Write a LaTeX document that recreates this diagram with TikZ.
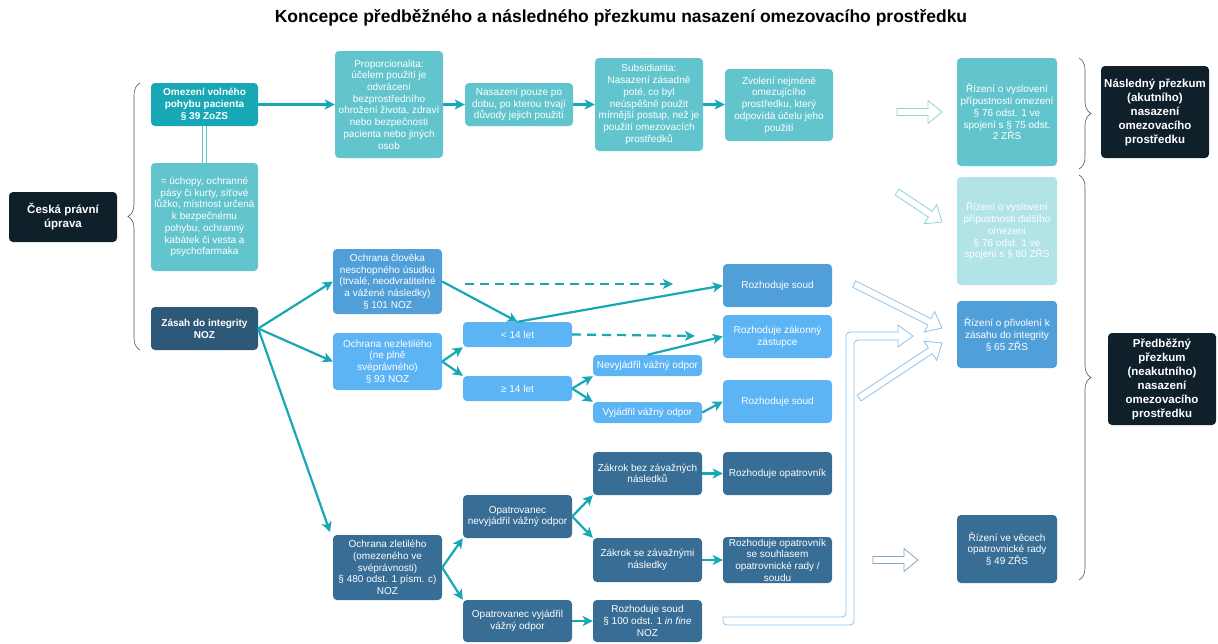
\documentclass[tikz,border=0pt]{standalone}
\usepackage{fontspec}
\setmainfont{Liberation Sans}
\usetikzlibrary{arrows.meta,calc,decorations.pathreplacing}

\definecolor{tealdark}{HTML}{17A7B5}
\definecolor{tealmid}{HTML}{62C5CD}
\definecolor{teallight}{HTML}{B2E3E6}
\definecolor{bluemid}{HTML}{509FD9}
\definecolor{bluelight}{HTML}{5DB4F5}
\definecolor{bluedark}{HTML}{386D95}
\definecolor{bluedeep}{HTML}{2E5878}
\definecolor{nightbox}{HTML}{10202B}
\definecolor{arrowteal}{HTML}{17A7B5}
\definecolor{hollowteal}{HTML}{8FD4D9}
\definecolor{hollowblue}{HTML}{8CC2EE}
\definecolor{hollowgray}{HTML}{86A4C2}
\definecolor{bracegray}{HTML}{555555}

% hollow block arrow: style, tail, tip
\newcommand{\hollowarrow}[3]{%
  \coordinate (ha-t) at (#2);
  \coordinate (ha-p) at (#3);
  \coordinate (ha-b) at ($(ha-p)!14pt!(ha-t)$);
  \draw[#1] ($(ha-t)!3.5pt!90:(ha-p)$) -- ($(ha-b)!3.5pt!-90:(ha-t)$)
    -- ($(ha-b)!11.5pt!-90:(ha-t)$) -- (ha-p) -- ($(ha-b)!11.5pt!90:(ha-t)$)
    -- ($(ha-b)!3.5pt!90:(ha-t)$) -- ($(ha-t)!3.5pt!-90:(ha-p)$) -- cycle;
}

\begin{document}
\begin{tikzpicture}[x=1pt, y=-1pt,
  box/.style={rounded corners=4pt, text=white, align=center, inner sep=1pt,
    minimum width=108pt, font=\fontsize{10}{11.7}\selectfont},
  boldbox/.style={box, font=\fontsize{10}{12}\selectfont\bfseries},
  headbox/.style={box, fill=nightbox, font=\fontsize{11.5}{14}\selectfont\bfseries},
  link/.style={arrowteal, line width=2.2pt, -{Stealth[length=10pt,width=10pt,inset=2.5pt]}},
  dashlink/.style={link, dash pattern=on 9pt off 6pt},
  bracket/.style={bracegray, line width=0.6pt, decorate, decoration={brace, amplitude=12pt}},
  hollow/.style={line width=0.8pt, line join=miter, fill=white}
]
\useasboundingbox (0,0) rectangle (1218,643);

\node[font=\fontsize{17.5}{20}\selectfont\bfseries] (title) at (621,18)
  {Koncepce předběžného a následného přezkumu nasazení omezovacího prostředku};

% === left column ===
\node[headbox, minimum height=50pt] (cesk) at (63,217) {Česká právní\\úprava};
\draw[bracket] (140,350) -- (140,83);

\node[boldbox, fill=tealdark, minimum width=107pt, minimum height=43pt] (omez) at (204.5,104.5)
  {Omezení volného\\pohybu pacienta\\§ 39 ZoZS};
\node[box, fill=tealmid, minimum width=107pt, minimum height=108pt] (desc) at (204.5,217)
  {= úchopy, ochranné\\pásy či kurty, síťové\\lůžko, místnost určená\\k bezpečnému\\pohybu, ochranný\\kabátek či vesta a\\psychofarmaka};
\node[boldbox, fill=bluedeep, minimum width=107pt, minimum height=43pt] (zasah) at (204.5,328.5)
  {Zásah do integrity\\NOZ};
\draw[tealmid, line width=1pt, double=white, double distance=2.5pt] (omez.south) -- (desc.north);

% === top row: principles ===
\node[box, fill=tealmid, minimum height=107pt] (prop) at (389,104.5)
  {Proporcionalita:\\účelem použití je\\odvrácení\\bezprostředního\\ohrožení života, zdraví\\nebo bezpečnosti\\pacienta nebo jiných\\osob};
\node[box, fill=tealmid, minimum height=43pt] (nasaz) at (519,104.5)
  {Nasazení pouze po\\dobu, po kterou trvají\\důvody jejich použití};
\node[box, fill=tealmid, minimum height=93pt] (subs) at (649,104.5)
  {Subsidiarita:\\Nasazení zásadně\\poté, co byl\\neúspěšně použit\\mírnější postup, než je\\použití omezovacích\\prostředků};
\node[box, fill=tealmid, minimum height=72pt] (zvol) at (779,105)
  {Zvolení nejméně\\omezujícího\\prostředku, který\\odpovídá účelu jeho\\použití};
\draw[link] (omez.east) -- (prop.west);
\draw[link] (prop.west |- nasaz.west) ++(108,0) -- (nasaz.west);
\draw[link] (nasaz.east) -- (subs.west |- nasaz.east);
\draw[link] (subs.east |- nasaz.east) -- (zvol.west |- nasaz.east);

% === integrity: incapable person and minor ===
\node[box, fill=bluemid, minimum width=109pt, minimum height=65pt] (ochrC) at (387.5,281.5)
  {Ochrana člověka\\neschopného úsudku\\(trvalé, neodvratitelné\\a vážené následky)\\§ 101 NOZ};
\node[box, fill=bluelight, minimum width=109pt, minimum height=57pt] (ochrN) at (387.5,361.5)
  {Ochrana nezletilého\\(ne plně\\svéprávného)\\§ 93 NOZ};
\node[box, fill=bluelight, minimum width=109pt, minimum height=25pt] (lt14) at (517.5,334.5) {< 14 let};
\node[box, fill=bluelight, minimum width=109pt, minimum height=25pt] (ge14) at (517.5,388.5) {≥ 14 let};
\node[box, fill=bluelight, minimum width=109pt, minimum height=21pt] (nevyj) at (647.5,365.5) {Nevyjádřil vážný odpor};
\node[box, fill=bluelight, minimum width=109pt, minimum height=21pt] (vyj) at (647.5,412.5) {Vyjádřil vážný odpor};
\node[box, fill=bluemid, minimum width=109pt, minimum height=43pt] (soud1) at (777.5,285.5) {Rozhoduje soud};
\node[box, fill=bluelight, minimum width=109pt, minimum height=43pt] (zast) at (777.5,336.5) {Rozhoduje zákonný\\zástupce};
\node[box, fill=bluelight, minimum width=109pt, minimum height=43pt] (soud2) at (777.5,401.5) {Rozhoduje soud};

\coordinate (dashA) at (465,284);
\coordinate (dashAend) at (673,284);
\coordinate (dashBend) at (695,336);
\draw[link] (zasah.east) -- (ochrC.west);
\draw[link] (zasah.east) -- (ochrN.west);
\draw[link] (zasah.east) -- (330,532);
\draw[link] (ochrC.east) -- (lt14.north);
\draw[link] (lt14.north) -- (soud1.west);
\draw[dashlink] (dashA) -- (dashAend);
\draw[dashlink] (lt14.east) -- (dashBend);
\draw[link] (ochrN.east) -- (lt14.south west);
\draw[link] (ochrN.east) -- (ge14.north west);
\draw[link] (ge14.east) -- (nevyj.south west);
\draw[link] (ge14.east) -- (vyj.north west);
\draw[link] (nevyj.north) -- (zast.west);
\draw[link] (vyj.east) -- (soud2.west);

% === integrity: adult with limited capacity ===
\node[box, fill=bluedark, minimum width=109pt, minimum height=65pt] (ochrZ) at (387.5,567.5)
  {Ochrana zletilého\\(omezeného ve\\svéprávnosti)\\§ 480 odst. 1 písm. c)\\NOZ};
\node[box, fill=bluedark, minimum width=109pt, minimum height=43pt] (opNev) at (517.5,516.5)
  {Opatrovanec\\nevyjádřil vážný odpor};
\node[box, fill=bluedark, minimum width=109pt, minimum height=42pt] (opVyj) at (517.5,621)
  {Opatrovanec vyjádřil\\vážný odpor};
\node[box, fill=bluedark, minimum width=109pt, minimum height=43pt] (zakBez) at (647.5,473.5)
  {Zákrok bez závažných\\následků};
\node[box, fill=bluedark, minimum width=109pt, minimum height=44pt] (zakSe) at (647.5,560)
  {Zákrok se závažnými\\následky};
\node[box, fill=bluedark, minimum width=109pt, minimum height=42pt] (soud100) at (647.5,621)
  {Rozhoduje soud\\§ 100 odst. 1 \textit{in fine}\\NOZ};
\node[box, fill=bluedark, minimum width=109pt, minimum height=43pt] (opatr) at (777.5,473.5)
  {Rozhoduje opatrovník};
\node[box, fill=bluedark, minimum width=109pt, minimum height=46pt] (opatrS) at (777.5,560)
  {Rozhoduje opatrovník\\se souhlasem\\opatrovnické rady /\\soudu};
\draw[link] (ochrZ.east) -- (opNev.south west);
\draw[link] (ochrZ.east) -- (opVyj.north west);
\draw[link] (opNev.east) -- (zakBez.south west);
\draw[link] (opNev.east) -- (zakSe.north west);
\draw[link] (zakBez.east) -- (opatr.west);
\draw[link] (zakSe.east) -- (opatrS.west);
\draw[link] (opVyj.east) -- (soud100.west);

% === right column: court proceedings ===
\node[box, fill=tealmid, minimum width=100pt, minimum height=108pt] (rizA) at (1007,112)
  {Řízení o vyslovení\\přípustnosti omezení\\§ 76 odst. 1 ve\\spojení s § 75 odst.\\2 ZŘS};
\node[box, fill=teallight, minimum width=100pt, minimum height=108pt] (rizB) at (1007,231)
  {Řízení o vyslovení\\přípustnosti dalšího\\omezení\\§ 76 odst. 1 ve\\spojení s § 80 ZŘS};
\node[box, fill=bluemid, minimum width=100pt, minimum height=67pt] (rizC) at (1007,334.5)
  {Řízení o přivolení k\\zásahu do integrity\\§ 65 ZŘS};
\node[box, fill=bluedark, minimum width=100pt, minimum height=68pt] (rizD) at (1007,549)
  {Řízení ve věcech\\opatrovnické rady\\§ 49 ZŘS};

\draw[bracket] (1079,58) -- (1079,169);
\draw[bracket] (1079,175) -- (1079,580);
\node[headbox, minimum height=92pt] (nasl) at (1155,112)
  {Následný přezkum\\(akutního)\\nasazení\\omezovacího\\prostředku};
\node[headbox, minimum height=92pt] (predb) at (1162,379)
  {Předběžný\\přezkum\\(neakutního)\\nasazení\\omezovacího\\prostředku};

% === hollow arrows ===
\hollowarrow{hollow, draw=hollowteal}{897,112}{942,112}
\hollowarrow{hollow, draw=hollowteal}{897,192}{942,222}
\hollowarrow{hollow, draw=hollowblue}{854,284}{942,328}
\hollowarrow{hollow, draw=hollowblue}{859,398}{942,343}
\hollowarrow{hollow, draw=hollowgray}{873,560}{918,560}
\draw[hollow, draw=hollowblue] (723,617) [rounded corners=4pt] -- (846,617) -- (846,332)
  [sharp corners] -- (898,332) -- (898,325) -- (913,336) -- (898,347) -- (898,340)
  [rounded corners=4pt] -- (854,340) -- (854,625) -- (723,625) [sharp corners] -- cycle;

\end{tikzpicture}
\end{document}
